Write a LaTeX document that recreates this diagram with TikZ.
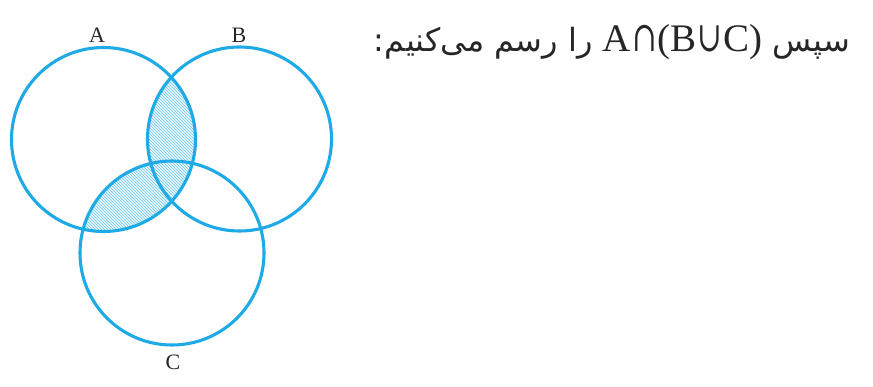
\documentclass[tikz,border=0pt]{standalone}
\usepackage{fontspec}
\usepackage{graphicx}
\usetikzlibrary{patterns}
\TeXXeTstate=1
\newfontfamily\arabicfont[Script=Arabic]{DejaVu Sans}
\newfontfamily\latinserif{Liberation Serif}
\newfontfamily\symserif{DejaVu Serif}
\definecolor{vennblue}{RGB}{30,170,230}
\newcommand{\setop}[1]{\hspace{1pt}\raisebox{-0.5pt}{\scalebox{0.95}[1.35]{\symserif\fontsize{31}{31}\selectfont #1}}\hspace{1pt}}
\begin{document}
\begin{tikzpicture}[x=1pt,y=-1pt,
  circ/.style={draw=vennblue,line width=3.1pt},
  lab/.style={font=\latinserif\fontsize{22}{22}\selectfont,text=black!85},
  hatch/.style={pattern=north west lines,pattern color=vennblue!65}]
\useasboundingbox (0,0) rectangle (873,386);
\coordinate (ca) at (103.5,139.5);
\coordinate (cb) at (239.5,139);
\coordinate (cc) at (172,253);
\begin{scope}
  \clip (ca) circle[radius=92pt];
  \fill[vennblue!10] (cb) circle[radius=92pt] (cc) circle[radius=92pt];
  \fill[hatch] (cb) circle[radius=92pt] (cc) circle[radius=92pt];
\end{scope}
\draw[circ] (ca) circle[radius=92pt];
\draw[circ] (cb) circle[radius=92pt];
\draw[circ] (cc) circle[radius=92pt];
\node[lab] (la) at (97,35) {A};
\node[lab] (lb) at (239,35) {B};
\node[lab] (lc) at (173,362) {C};
\node[anchor=base east,inner sep=0pt,text=black!85] (t) at (850,51) {\arabicfont\fontsize{32}{32}\selectfont\beginR سپس \beginL{\latinserif\fontsize{39}{39}\selectfont A\setop{∩}(B\setop{∪}C)}\endL{} را رسم می‌کنیم:\endR};
\end{tikzpicture}
\end{document}
